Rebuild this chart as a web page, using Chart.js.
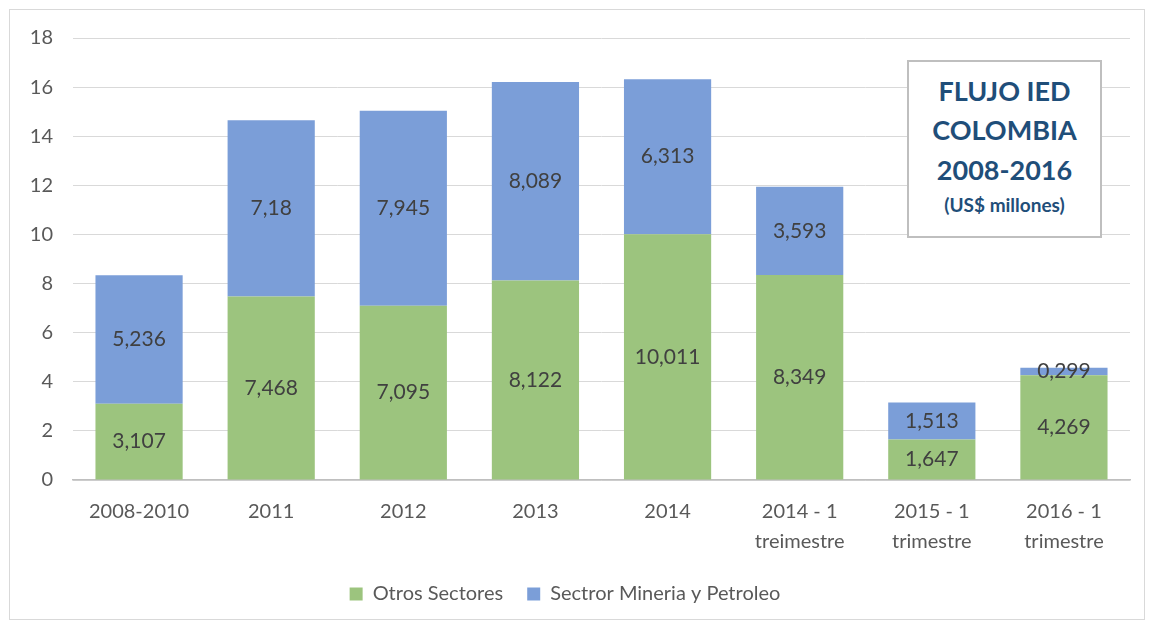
<!DOCTYPE html>
<html>
<head>
<meta charset="utf-8">
<script src="https://cdn.jsdelivr.net/npm/chart.js@4"></script>
<style>
  html, body { margin: 0; padding: 0; background: #fff; }
  #wrap { position: relative; width: 1155px; height: 626px; }
  #frame { position: absolute; left: 9px; top: 9px; width: 1136px; height: 611px; border: 1px solid #d9d9d9; box-sizing: border-box; pointer-events: none; }
  #title { position: absolute; left: 907px; top: 60px; width: 195px; height: 178px; box-sizing: border-box;
    border: 2px solid #bfbfbf; background: #fff; color: #1f4e79; font-family: Lato, "Open Sans", sans-serif;
    font-weight: bold; text-align: center; }
  #title .big { font-size: 27px; line-height: 39px; }
  #title .small { font-size: 19px; line-height: 30px; }
</style>
</head>
<body>
<div id="wrap">
  <canvas id="c" width="1155" height="626"></canvas>
  <div id="frame"></div>
  <div id="title">
    <div style="height:9px"></div>
    <div class="big">FLUJO IED</div>
    <div class="big">COLOMBIA</div>
    <div class="big" style="line-height:41px">2008-2016</div>
    <div class="small">(US$ millones)</div>
  </div>
</div>
<script>
(function () {
  const categories = ['2008-2010', '2011', '2012', '2013', '2014',
    ['2014 - 1', 'treimestre'], ['2015 - 1', 'trimestre'], ['2016 - 1', 'trimestre']];
  const otrosSectores = [3.107, 7.468, 7.095, 8.122, 10.011, 8.349, 1.647, 4.269];
  const mineriaPetroleo = [5.236, 7.18, 7.945, 8.089, 6.313, 3.593, 1.513, 0.299];
  const yTicks = [0, 2, 4, 6, 8, 10, 12, 14, 16, 18];

  const green = '#9cc47e';
  const blue = '#7b9ed8';
  const textColor = '#595959';
  const font = 'Lato, "Open Sans", sans-serif';

  // labels centred in each stacked segment, decimal comma as in the source
  const segmentLabels = {
    id: 'segmentLabels',
    afterDatasetsDraw(chart) {
      const ctx = chart.ctx;
      ctx.save();
      ctx.font = '21px ' + font;
      ctx.fillStyle = '#404040';
      ctx.textAlign = 'center';
      ctx.textBaseline = 'middle';
      chart.data.datasets.forEach((ds, i) => {
        chart.getDatasetMeta(i).data.forEach((bar, j) => {
          const p = bar.getCenterPoint();
          ctx.fillText(String(ds.data[j]).replace('.', ','), p.x, p.y);
        });
      });
      ctx.restore();
    }
  };

  new Chart(document.getElementById('c').getContext('2d'), {
    type: 'bar',
    data: {
      labels: categories,
      datasets: [
        { label: 'Otros Sectores', data: otrosSectores, backgroundColor: green },
        { label: 'Sectror Mineria y Petroleo', data: mineriaPetroleo, backgroundColor: blue }
      ]
    },
    options: {
      responsive: false,
      animation: false,
      categoryPercentage: 1,
      barPercentage: 0.66,
      layout: { padding: { top: 38, right: 25, left: 0, bottom: 12 } },
      plugins: {
        tooltip: { enabled: false },
        legend: {
          position: 'bottom',
          labels: { color: textColor, font: { family: font, size: 20 }, boxWidth: 13, boxHeight: 13, padding: 24 }
        }
      },
      scales: {
        x: {
          stacked: true,
          grid: { display: false },
          border: { color: '#bfbfbf', width: 1.5 },
          ticks: { color: textColor, font: { family: font, size: 20, lineHeight: 1.5 }, padding: 9, maxRotation: 0 },
          afterFit(s) { s.height = 80; }
        },
        y: {
          stacked: true,
          min: 0,
          max: 18,
          afterBuildTicks(s) { s.ticks = yTicks.map(v => ({ value: v })); },
          grid: { color: '#d9d9d9', drawTicks: false, lineWidth: 1 },
          border: { display: false },
          ticks: { color: textColor, font: { family: font, size: 20 }, padding: 20 },
          afterFit(s) { s.width = 73; }
        }
      }
    },
    plugins: [segmentLabels]
  });
})();
</script>
</body>
</html>
